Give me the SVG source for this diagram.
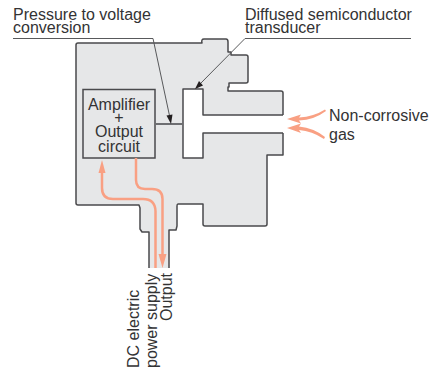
<svg xmlns="http://www.w3.org/2000/svg" width="430" height="372" viewBox="0 0 430 372">
<style>
text{font-family:"Liberation Sans",Arial,sans-serif;font-size:16px;fill:#333334}
.fill{fill:#e6e7e8;stroke:none}
.edge{fill:none;stroke:#4a4a4c;stroke-width:1.5;stroke-linejoin:round}
.lead{fill:none;stroke:#58595b;stroke-width:1}
.flow{fill:none;stroke:#f9a083;stroke-width:2.500}
.head{fill:#f9a083}
.tip{fill:#231f20}
</style>
<g id="sensor-body">
<path class="fill" d="M78 43H202Q201 39 204 39H226Q228 39 228 42V52H231V55H246Q248 55 248 57V81Q248 83 246 83H229V87H228V91H281Q283 91 283 93V115H203V89H183V158H203V133H281Q283 133 283 135V155H267V224Q267 226 265 226H205Q203 226 203 224V204H178Q177 204 177 206V226L176 230H169V268H149V232H142L140 229V208L139 205L138 205H78Q76 205 76 203V45Q76 43 78 43Z"/>
<path class="edge" d="M149 268V232H142L140 229V208L139 205L138 205H78Q76 205 76 203V45Q76 43 78 43H202Q201 39 204 39H226Q228 39 228 42V52H231V55H246Q248 55 248 57V81Q248 83 246 83H229V87H228V91H281Q283 91 283 93V115"/>
<path class="edge" d="M283 115H203V89H183V158H203V133H283"/>
<path class="edge" d="M283 133V155H267V224Q267 226 265 226H205Q203 226 203 224V204H178Q177 204 177 206V226L176 230H169V268"/>
</g>
<g id="amplifier">
<rect x="83" y="89.500" width="72" height="68.500" fill="#e6e7e8" stroke="#4a4a4c" stroke-width="1.500"/>
<text text-anchor="middle"><tspan x="119" y="110">Amplifier</tspan><tspan x="119" y="123">+</tspan><tspan x="119" y="137">Output</tspan><tspan x="119" y="152">circuit</tspan></text>
</g>
<g id="connectors">
<path d="M155 124H183" stroke="#6d6e71" stroke-width="2" fill="none"/>
<path class="lead" d="M13 38.500H153L170 118"/>
<path class="tip" d="M171 124L166.500 115.500L172.500 114.500Z"/>
<path class="lead" d="M411 38.500H245L199 85"/>
<path class="tip" d="M195 89L199 81L203 85.500Z"/>
<path class="flow" d="M102 168V188Q102 199 113 199H143Q155 199 155.500 211V268"/>
<path class="head" d="M102 160L105.500 173H98.500Z"/>
<path class="flow" d="M136 158V180Q136 189 145 189H152Q162.500 189 162.500 199V262"/>
<path class="head" d="M162.500 268L158.500 254H166.500Z"/>
<path class="head" d="M287 119L301 114.500L299 117.500Q314 116.500 325 109.500L326 111Q314 120 299 120.500L301 123.500Z"/>
<path class="head" d="M287 128L301 123.500L299 126.500Q314 128 325 137L324 139Q312 131 299 130L301 133Z"/>
</g>
<g id="labels">
<text><tspan x="13" y="19.500">Pressure to voltage</tspan><tspan x="13" y="33">conversion</tspan></text>
<text><tspan x="245" y="19.500">Diffused semiconductor</tspan><tspan x="245" y="33">transducer</tspan></text>
<text><tspan x="329" y="121">Non-corrosive</tspan><tspan x="329" y="139.500">gas</tspan></text>
<text transform="translate(139 368) rotate(-90)">DC electric</text>
<text transform="translate(157 368) rotate(-90)">power supply</text>
<text transform="translate(172 321) rotate(-90)">Output</text>
</g>
</svg>
